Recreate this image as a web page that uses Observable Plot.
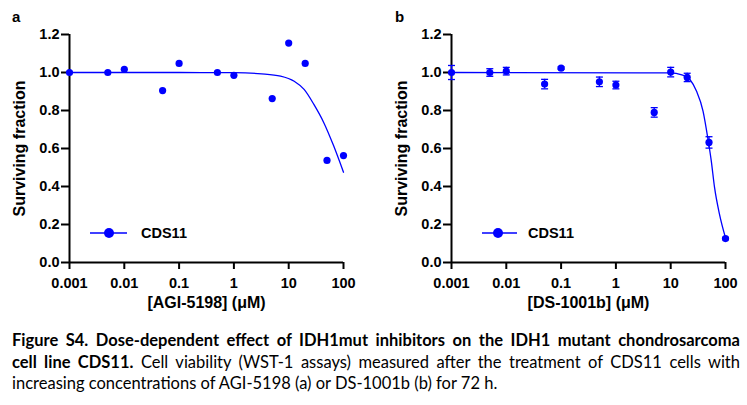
<!DOCTYPE html>
<html><head><meta charset="utf-8">
<script src="https://cdn.jsdelivr.net/npm/d3@7"></script>
<script src="https://cdn.jsdelivr.net/npm/@observablehq/plot@0.6"></script>
<style>
html,body{margin:0;padding:0;background:#fff;}
body{width:747px;height:405px;overflow:hidden;position:relative;font-family:"Liberation Sans",Arial,sans-serif;color:#000;}
.panel{position:absolute;top:0;}
.panel svg text{font-weight:bold;}
.letter{position:absolute;font-weight:bold;font-size:15px;line-height:15px;}
.legend{position:absolute;top:0;left:0;}
.caption{position:absolute;left:12px;top:330px;width:728px;font-family:Lato,"Open Sans",sans-serif;font-size:16.5px;}
.caption div{white-space:nowrap;height:21.5px;line-height:21.5px;}
.caption div span.l{display:inline-block;transform-origin:0 50%;}
</style>
</head><body>
<div id="pa" class="panel" style="left:0"></div>
<div id="pb" class="panel" style="left:370px"></div>
<div class="letter" style="left:12px;top:9px">a</div>
<div class="letter" style="left:395px;top:9px">b</div>
<svg class="legend" width="747" height="300" id="leg"></svg>
<div class="caption" id="cap"></div>
<script>
// ---- data ----
const doses = [0.001, 0.005, 0.01, 0.05, 0.1, 0.5, 1, 5, 10, 20, 50, 100];
const survivalA = [1.0, 1.0, 1.017, 0.905, 1.048, 1.0, 0.985, 0.863, 1.155, 1.048, 0.537, 0.563];
const survivalB = [1.0, 1.0, 1.007, 0.939, 1.023, 0.951, 0.934, 0.790, 1.002, 0.974, 0.632, 0.126];
const errorB    = [0.037, 0.02, 0.02, 0.025, 0.006, 0.025, 0.02, 0.025, 0.025, 0.022, 0.03, 0.006];
// fitted curves
const fitDoseA = [0.001, 0.1, 1, 3.2, 7.1, 12.6, 19.1, 28.8, 43.7, 66.1, 100];
const fitA     = [1.0, 1.0, 0.999, 0.993, 0.981, 0.954, 0.911, 0.832, 0.736, 0.614, 0.475];
const fitDoseB = [0.001, 2.8, 9.5, 16.6, 22.4, 29.5, 38.9, 47.9, 55, 63.1, 77.6, 100];
const fitB     = [1.0, 0.998, 0.998, 0.986, 0.963, 0.902, 0.797, 0.649, 0.535, 0.395, 0.255, 0.13];
const xTicks = [0.001, 0.01, 0.1, 1, 10, 100];
const yTicks = [0, 0.2, 0.4, 0.6, 0.8, 1.0, 1.2];
const xDomain = [0.001, 100];
const yDomain = [0, 1.2];
const yTitle = "Surviving fraction";
const xTitleA = "[AGI-5198] (\u03bcM)";
const xTitleB = "[DS-1001b] (\u03bcM)";
const seriesName = "CDS11";
const blue = "#0000ff";

const capSymbol = {draw(ctx) { ctx.moveTo(-3.5, 0); ctx.lineTo(3.5, 0); }};

function panel(pts, fitPts, xTitle, errs, marginLeft, width) {
  const marks = [
    Plot.axisX(xTicks, {tickSize: 7, tickPadding: 8, tickFormat: d => String(d), fontSize: 14.5, fontWeight: "bold", strokeWidth: 2, label: null}),
    Plot.axisY(yTicks, {tickSize: 8, tickPadding: 2, tickFormat: d3.format(".1f"), fontSize: 14.5, fontWeight: "bold", strokeWidth: 2, label: null}),
    Plot.ruleY([yDomain[0]], {x1: xDomain[0], x2: xDomain[1], strokeWidth: 2, stroke: "#000"}),
    Plot.ruleX([xDomain[0]], {y1: yDomain[0], y2: yDomain[1], strokeWidth: 2, stroke: "#000"}),
    Plot.text([xTitle], {frameAnchor: "bottom", lineAnchor: "middle", dy: 40, fontSize: 16, fontWeight: "bold", fill: "#000"}),
    Plot.text([yTitle], {frameAnchor: "left", textAnchor: "middle", lineAnchor: "middle", rotate: -90, dx: -49.5, fontSize: 16, fontWeight: "bold", fill: "#000"}),
    Plot.line(fitPts, {x: "x", y: "y", stroke: blue, strokeWidth: 1.3, curve: "monotone-x"})
  ];
  if (errs) {
    marks.push(Plot.ruleX(pts, {x: "x", y1: d => d.y - d.e, y2: d => d.y + d.e, stroke: blue, strokeWidth: 1.3}));
    marks.push(Plot.dot(pts, {x: "x", y: d => d.y + d.e, symbol: capSymbol, stroke: blue, fill: "none", strokeWidth: 1.3}));
    marks.push(Plot.dot(pts, {x: "x", y: d => d.y - d.e, symbol: capSymbol, stroke: blue, fill: "none", strokeWidth: 1.3}));
  }
  marks.push(Plot.dot(pts, {x: "x", y: "y", r: 3.6, fill: blue, stroke: "none"}));
  return Plot.plot({
    width, height: 315, marginLeft, marginRight: width - marginLeft - 274, marginTop: 34, marginBottom: 53,
    x: {type: "log", domain: xDomain},
    y: {domain: yDomain},
    style: {fontFamily: "'Liberation Sans', Arial, sans-serif", color: "#000", background: "transparent", overflow: "visible"},
    marks
  });
}

const ptsA = doses.map((x, i) => ({x, y: survivalA[i]}));
const ptsB = doses.map((x, i) => ({x, y: survivalB[i], e: errorB[i]}));
const fA = fitDoseA.map((x, i) => ({x, y: fitA[i]}));
const fB = fitDoseB.map((x, i) => ({x, y: fitB[i]}));

document.getElementById("pa").appendChild(panel(ptsA, fA, xTitleA, false, 69, 370));
document.getElementById("pb").appendChild(panel(ptsB, fB, xTitleB, true, 81, 377));

// legends
const leg = d3.select("#leg");
[[90, 127, 109, 141], [482, 517, 498, 528]].forEach(([x1, x2, cx, tx]) => {
  const y = 233;
  leg.append("line").attr("x1", x1).attr("x2", x2).attr("y1", y).attr("y2", y).attr("stroke", blue).attr("stroke-width", 1.5);
  leg.append("circle").attr("cx", cx).attr("cy", y).attr("r", 5).attr("fill", blue);
  leg.append("text").attr("x", tx).attr("y", y).attr("dy", "0.36em").attr("font-weight", "bold").attr("font-size", 14.5)
     .attr("font-family", "'Liberation Sans', Arial, sans-serif").text(seriesName);
});

// caption
const capLines = [
  [["b", "Figure S4. Dose-dependent effect of IDH1mut inhibitors on the IDH1 mutant chondrosarcoma"]],
  [["b", "cell line CDS11."], ["n", " Cell viability (WST-1 assays) measured after the treatment of CDS11 cells with"]],
  [["n", "increasing concentrations of AGI-5198 (a) or DS-1001b (b) for 72 h."]]
];
const cap = document.getElementById("cap");
const target = 728;
const spans = capLines.map(parts => {
  const div = document.createElement("div");
  const span = document.createElement("span");
  span.className = "l";
  parts.forEach(([w, t]) => {
    const s = document.createElement("span");
    s.textContent = t;
    if (w === "b") s.style.fontWeight = "bold";
    span.appendChild(s);
  });
  div.appendChild(span);
  cap.appendChild(div);
  return span;
});
const widths = spans.map(s => s.getBoundingClientRect().width);
const sx = Math.min(1, (target - 6) / Math.max(widths[0], widths[1]));
spans.forEach((span, li) => {
  const text = capLines[li].map(p => p[1]).join("");
  const spaces = (text.match(/ /g) || []).length;
  if (li < 2) span.style.wordSpacing = ((target / sx - widths[li]) / spaces) + "px";
  span.style.transform = "scaleX(" + sx + ")";
});
</script>
</body></html>
